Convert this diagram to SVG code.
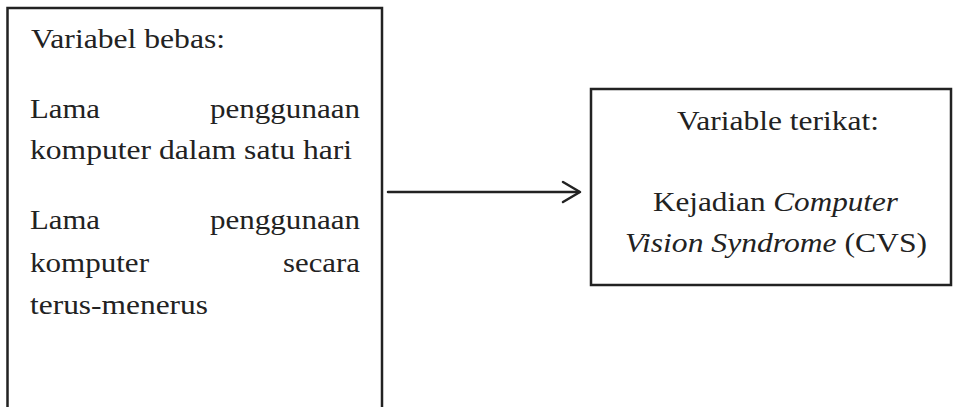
<svg xmlns="http://www.w3.org/2000/svg" width="954" height="407" viewBox="0 0 954 407">
  <style>
    .box { fill: none; stroke: #222; stroke-width: 2.5; }
    .t { font-family: "Liberation Serif", "Times New Roman", serif; font-size: 27.5px; fill: #222; }
    .i { font-style: italic; }
    .conn { fill: none; stroke: #222; stroke-width: 2.5; stroke-linecap: round; stroke-linejoin: round; }
  </style>
  <rect width="954" height="407" fill="#fff"/>
  <g id="node-bebas">
    <rect class="box" x="7.5" y="8" width="374.5" height="420"/>
    <text class="t" x="31" y="48" textLength="194" lengthAdjust="spacingAndGlyphs">Variabel bebas:</text>
    <text class="t" x="30" y="118" textLength="70" lengthAdjust="spacingAndGlyphs">Lama</text>
    <text class="t" x="210" y="118" textLength="150" lengthAdjust="spacingAndGlyphs">penggunaan</text>
    <text class="t" x="30" y="159" textLength="322" lengthAdjust="spacingAndGlyphs">komputer dalam satu hari</text>
    <text class="t" x="30" y="229" textLength="70" lengthAdjust="spacingAndGlyphs">Lama</text>
    <text class="t" x="210" y="229" textLength="150" lengthAdjust="spacingAndGlyphs">penggunaan</text>
    <text class="t" x="30" y="272" textLength="119" lengthAdjust="spacingAndGlyphs">komputer</text>
    <text class="t" x="283" y="272" textLength="77" lengthAdjust="spacingAndGlyphs">secara</text>
    <text class="t" x="30" y="314" textLength="178" lengthAdjust="spacingAndGlyphs">terus-menerus</text>
  </g>
  <g id="node-terikat">
    <rect class="box" x="591" y="89" width="360" height="196"/>
    <text class="t" x="677" y="130" textLength="202" lengthAdjust="spacingAndGlyphs">Variable terikat:</text>
    <text class="t" x="653" y="211" textLength="245" lengthAdjust="spacingAndGlyphs">Kejadian <tspan class="i">Computer</tspan></text>
    <text class="t" x="625" y="252" textLength="302" lengthAdjust="spacingAndGlyphs"><tspan class="i">Vision Syndrome</tspan> (CVS)</text>
  </g>
  <g id="connectors">
    <line class="conn" x1="388" y1="192" x2="579" y2="192"/>
    <polyline class="conn" points="563,182 580,192 563,202"/>
  </g>
</svg>
